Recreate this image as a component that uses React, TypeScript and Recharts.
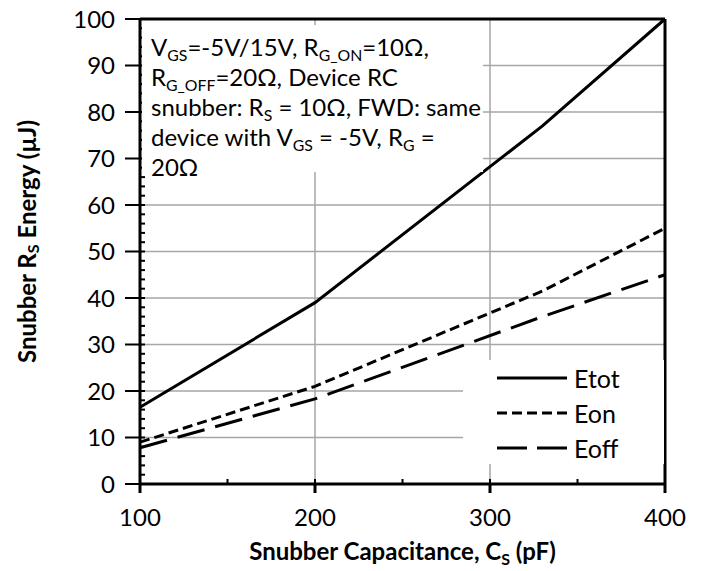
import React from 'react'
import { LineChart, Line, XAxis, YAxis, CartesianGrid, ReferenceLine, Legend } from 'recharts'

// snubber capacitance (pF) and the energy in the snubber resistor (uJ)
const capacitance = [100, 200, 330, 400]
const eTot = [16.5, 39, 77, 100]
const eOn = [9, 21, 41.5, 55]
const eOff = [7.8, 18.3, 36, 45]

const xTicks = [100, 200, 300, 400]
const xMinorTicks = [100, 150, 200, 250, 300, 350, 400]
const yTicks = [0, 10, 20, 30, 40, 50, 60, 70, 80, 90, 100]
const yMinorTicks = [
  0, 2, 4, 6, 8, 10, 12, 14, 16, 18, 20, 22, 24, 26, 28, 30, 32, 34, 36, 38, 40, 42, 44, 46, 48, 50,
  52, 54, 56, 58, 60, 62, 64, 66, 68, 70, 72, 74, 76, 78, 80, 82, 84, 86, 88, 90, 92, 94, 96, 98, 100,
]

const series = [
  { key: 'etot', name: 'Etot', dash: undefined as string | undefined },
  { key: 'eon', name: 'Eon', dash: '10 5' },
  { key: 'eoff', name: 'Eoff', dash: '28 11' },
]

const rows = capacitance.map((c, i) => ({ c, etot: eTot[i], eon: eOn[i], eoff: eOff[i] }))

const FONT = 'Lato, "DejaVu Sans", sans-serif'
const tickStyle = { fontSize: 24, fill: '#000', fontFamily: FONT }
const sub: React.CSSProperties = { fontSize: '0.66em', verticalAlign: '-0.3em', lineHeight: 0 }
const noLabel = () => ''

function YTitle({ viewBox }: any) {
  const cx = viewBox.x - 34
  const cy = viewBox.y + viewBox.height / 2 - 10
  return (
    <text x={cx} y={cy} transform={`rotate(-90 ${cx} ${cy})`} textAnchor="middle" dominantBaseline="central"
      fontFamily={FONT} fontWeight="bold" fontSize={24} fill="#000">
      Snubber R<tspan dy={6} fontSize={16}>S</tspan><tspan dy={-6}> Energy (µJ)</tspan>
    </text>
  )
}

function XTitle({ viewBox }: any) {
  const cx = viewBox.x + viewBox.width / 2
  const y = viewBox.y + viewBox.height + 36
  return (
    <text x={cx} y={y} textAnchor="middle" fontFamily={FONT} fontWeight="bold" fontSize={24} fill="#000">
      Snubber Capacitance, C<tspan dy={5} fontSize={16}>S</tspan><tspan dy={-5}> (pF)</tspan>
    </text>
  )
}

function LegendBox() {
  return (
    <div style={{ background: '#fff', width: 201, height: 104, boxSizing: 'border-box' }}>
      {series.map((s) => (
        <div key={s.key} style={{ display: 'flex', alignItems: 'center', height: 35, fontFamily: FONT, fontSize: 25 }}>
          <svg width={108} height={10} style={{ marginRight: 3 }}>
            <line x1={34} y1={5} x2={104} y2={5} stroke="#000" strokeWidth={3} strokeDasharray={s.dash === '28 11' ? '30 10' : s.dash} />
          </svg>
          <span>{s.name}</span>
        </div>
      ))}
    </div>
  )
}

export default function App() {
  return (
    <div style={{ position: 'absolute', left: 0, top: 0, width: 704, height: 571, background: '#fff' }}>
      <LineChart width={704} height={571} data={rows} margin={{ top: 19, right: 39, bottom: 47, left: 60 }}>
        <CartesianGrid stroke="#a6a6a6" strokeWidth={1.5} />
        <XAxis
          type="number"
          dataKey="c"
          domain={[100, 400]}
          ticks={xTicks}
          tick={tickStyle}
          tickSize={9}
          tickMargin={16}
          tickLine={{ stroke: '#000', strokeWidth: 3 }}
          axisLine={{ stroke: '#000', strokeWidth: 3 }}
          height={40}
          label={{ content: XTitle }}
        />
        <XAxis
          xAxisId="minor"
          type="number"
          dataKey="c"
          domain={[100, 400]}
          ticks={xMinorTicks}
          interval={0}
          mirror
          tick={{ fontSize: 1, fill: 'none' }}
          tickFormatter={noLabel}
          tickSize={5}
          tickLine={{ stroke: '#000', strokeWidth: 2 }}
          axisLine={false}
        />
        <YAxis
          type="number"
          domain={[0, 100]}
          ticks={yTicks}
          tick={tickStyle}
          tickSize={15}
          tickMargin={10}
          tickLine={{ stroke: '#000', strokeWidth: 2 }}
          axisLine={{ stroke: '#000', strokeWidth: 3 }}
          width={80}
          label={{ content: YTitle }}
        />
        <YAxis
          yAxisId="minor"
          type="number"
          domain={[0, 100]}
          ticks={yMinorTicks}
          interval={0}
          mirror
          tick={{ fontSize: 1, fill: 'none' }}
          tickFormatter={noLabel}
          tickSize={5}
          tickLine={{ stroke: '#000', strokeWidth: 2 }}
          axisLine={false}
        />
        <ReferenceLine y={100} stroke="#000" strokeWidth={3} />
        <ReferenceLine x={400} stroke="#000" strokeWidth={3} />
        {/* carrier for the minor-tick axes, draws nothing */}
        <Line
          xAxisId="minor"
          yAxisId="minor"
          dataKey="etot"
          stroke="none"
          dot={false}
          legendType="none"
          isAnimationActive={false}
        />
        {series.map((s) => (
          <Line
            key={s.key}
            type="linear"
            dataKey={s.key}
            name={s.name}
            stroke="#000"
            strokeWidth={3}
            strokeDasharray={s.dash}
            dot={false}
            isAnimationActive={false}
          />
        ))}
        <Legend
          layout="vertical"
          align="center"
          verticalAlign="middle"
          content={<LegendBox />}
          wrapperStyle={{ position: 'absolute', left: 463, top: 360, width: 201, height: 104 }}
        />
      </LineChart>
      <div
        style={{
          position: 'absolute', left: 142, top: 25, width: 341, height: 147, background: '#fff',
          fontFamily: FONT, fontSize: 24, lineHeight: '30px', color: '#000', paddingLeft: 9, paddingTop: 7,
          boxSizing: 'border-box', whiteSpace: 'nowrap',
        }}
      >
        <div>V<span style={sub}>GS</span>=-5V/15V, R<span style={sub}>G_ON</span>=10Ω,</div>
        <div>R<span style={sub}>G_OFF</span>=20Ω, Device RC</div>
        <div>snubber: R<span style={sub}>S</span> = 10Ω, FWD: same</div>
        <div>device with V<span style={sub}>GS</span> = -5V, R<span style={sub}>G</span> =</div>
        <div>20Ω</div>
      </div>
    </div>
  )
}
